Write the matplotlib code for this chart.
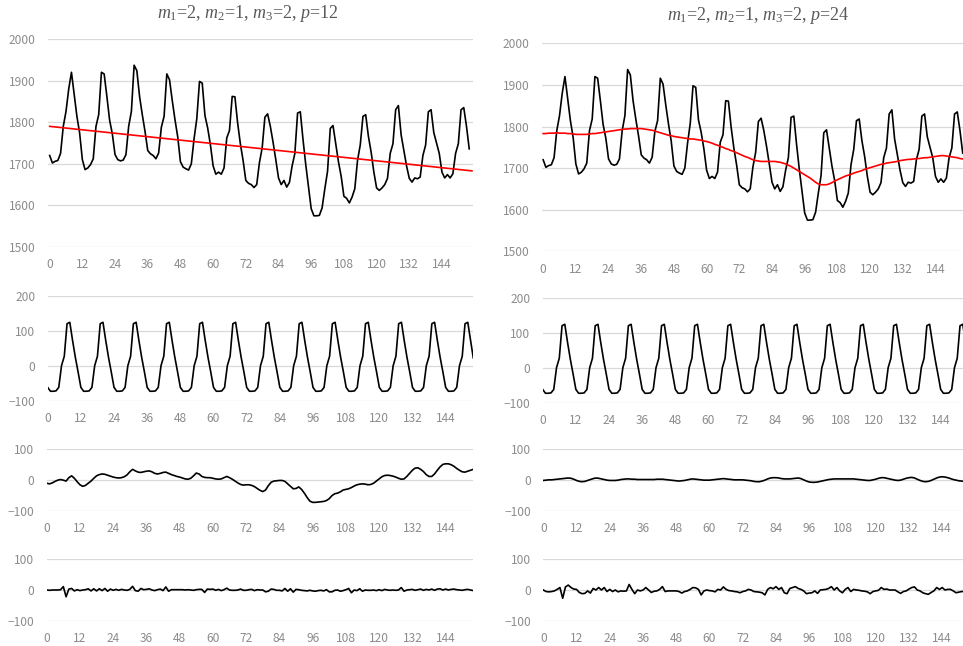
import numpy as np
import matplotlib
matplotlib.use("Agg")
import matplotlib.pyplot as plt

# ---------------- data ----------------
# observed series (index 0..154)
observed = [
    1720, 1702, 1706, 1708, 1725, 1790, 1826, 1880, 1920, 1866, 1814, 1774,
    1710, 1686, 1690, 1698, 1712, 1790, 1818, 1920, 1916, 1862, 1805, 1772,
    1722, 1710, 1707, 1709, 1722, 1790, 1826, 1937, 1924, 1862, 1818, 1778,
    1732, 1724, 1720, 1712, 1726, 1788, 1814, 1916, 1902, 1852, 1806, 1765,
    1705, 1692, 1688, 1685, 1700, 1760, 1808, 1898, 1894, 1816, 1786, 1746,
    1695, 1675, 1680, 1675, 1690, 1762, 1780, 1862, 1861, 1798, 1748, 1708,
    1660, 1653, 1650, 1643, 1650, 1703, 1738, 1812, 1820, 1790, 1752, 1710,
    1666, 1650, 1660, 1644, 1655, 1695, 1725, 1822, 1825, 1758, 1698, 1646,
    1592, 1575, 1575, 1576, 1594, 1640, 1682, 1785, 1792, 1748, 1705, 1670,
    1622, 1617, 1606, 1620, 1640, 1708, 1745, 1814, 1818, 1766, 1728, 1680,
    1642, 1636, 1642, 1650, 1665, 1725, 1748, 1830, 1840, 1770, 1732, 1695,
    1665, 1656, 1666, 1664, 1668, 1720, 1745, 1825, 1830, 1775, 1750, 1725,
    1680, 1666, 1674, 1666, 1676, 1725, 1748, 1830, 1835, 1790, 1736,
]

# linear trend (p=12): values at the first and last category
trend_lin_x = [0, 155]
trend_lin_y = [1790, 1683]

# smooth trend (p=24), index 0..155
trend_p24 = [
    1783, 1783, 1784, 1784, 1784, 1785, 1784, 1784, 1784, 1783, 1783, 1782,
    1781, 1781, 1781, 1781, 1781, 1782, 1783, 1783, 1784, 1785, 1786, 1787,
    1788, 1789, 1790, 1791, 1792, 1793, 1794, 1794, 1795, 1795, 1795, 1795,
    1795, 1794, 1793, 1792, 1791, 1789, 1787, 1785, 1783, 1781, 1779, 1778,
    1776, 1775, 1774, 1773, 1772, 1771, 1770, 1770, 1769, 1768, 1767, 1765,
    1764, 1762, 1760, 1757, 1755, 1752, 1750, 1747, 1745, 1742, 1740, 1737,
    1734, 1731, 1728, 1726, 1723, 1720, 1718, 1717, 1716, 1716, 1716, 1716,
    1716, 1716, 1715, 1714, 1712, 1710, 1707, 1704, 1700, 1696, 1692, 1688,
    1684, 1680, 1676, 1671, 1666, 1662, 1660, 1660, 1660, 1662, 1665, 1669,
    1672, 1675, 1678, 1681, 1683, 1685, 1688, 1690, 1692, 1694, 1697, 1699,
    1701, 1703, 1705, 1707, 1709, 1710, 1712, 1713, 1714, 1715, 1716, 1718,
    1719, 1720, 1721, 1721, 1722, 1723, 1723, 1724, 1725, 1725, 1726, 1727,
    1728, 1729, 1730, 1730, 1729, 1728, 1727, 1726, 1725, 1723, 1722, 1720,
]

# seasonal component, index 0..154
seasonal = [
    -62, -73, -73, -72, -62, 0, 27, 120, 124, 72, 24, -18,
    -62, -73, -73, -72, -62, 0, 27, 120, 124, 72, 24, -18,
    -62, -73, -73, -72, -62, 0, 27, 120, 124, 72, 24, -18,
    -62, -73, -73, -72, -62, 0, 27, 120, 124, 72, 24, -18,
    -62, -73, -73, -72, -62, 0, 27, 120, 124, 72, 24, -18,
    -62, -73, -73, -72, -62, 0, 27, 120, 124, 72, 24, -18,
    -62, -73, -73, -72, -62, 0, 27, 120, 124, 72, 24, -18,
    -62, -73, -73, -72, -62, 0, 27, 120, 124, 72, 24, -18,
    -62, -73, -73, -72, -62, 0, 27, 120, 124, 72, 24, -18,
    -62, -73, -73, -72, -62, 0, 27, 120, 124, 72, 24, -18,
    -62, -73, -73, -72, -62, 0, 27, 120, 124, 72, 24, -18,
    -62, -73, -73, -72, -62, 0, 27, 120, 124, 72, 24, -18,
    -62, -73, -73, -72, -62, 0, 27, 120, 124, 72, 22,
]

# cyclical component (p=12), index 0..154
cycle_p12 = [
    -10, -12, -9, -4, 0, 2, 0, -3, 8, 14, 6, -5,
    -15, -20, -17, -10, -3, 6, 14, 18, 20, 19, 16, 13,
    10, 8, 7, 8, 11, 17, 27, 35, 30, 26, 25, 27,
    29, 30, 27, 22, 20, 22, 25, 26, 22, 18, 15, 12,
    10, 7, 4, 3, 6, 14, 23, 20, 12, 9, 8, 8,
    6, 4, 3, 4, 8, 12, 8, 3, -3, -9, -14, -16,
    -15, -15, -17, -21, -27, -33, -37, -32, -18, -7, -3, -2,
    -1, -1, -4, -12, -20, -28, -27, -22, -30, -42, -56, -68,
    -72, -72, -71, -70, -69, -66, -60, -50, -44, -42, -38, -32,
    -30, -28, -24, -19, -15, -13, -12, -13, -15, -14, -10, -3,
    4, 11, 15, 16, 15, 13, 10, 6, 3, 4, 12, 22,
    32, 39, 40, 35, 28, 18, 12, 12, 20, 32, 43, 51,
    53, 53, 50, 45, 38, 32, 27, 26, 29, 32, 35,
]

# irregular component (p=12), index 0..154
noise_p12 = [
    0, -1, 0, 0, 0, 1, 11, -22, 3, 5, -3, 1,
    -2, 0, 1, 4, -3, 4, -3, 4, -2, 5, -4, 3,
    -1, 2, -1, 2, 0, -1, 2, 12, -2, -4, 5, 1,
    2, 4, 0, -2, 1, 3, -2, 10, -4, 1, 1, 1,
    1, 1, 0, 1, 0, -1, 1, 2, 2, -8, 3, 2,
    3, -1, 2, -2, 1, 6, 0, -1, -1, 0, 3, -1,
    -1, 1, 2, -2, 1, 0, 0, -6, -4, 3, 2, -1,
    -1, -3, 5, -4, 4, -7, 2, 1, -1, -2, -3, -1,
    -3, -4, -2, -1, -3, 1, -6, -6, -1, 0, -4, -2,
    1, 5, -9, 0, -2, 4, -4, 0, -1, -1, 0, -2,
    1, -2, 2, 0, -1, 0, -1, 0, 8, -4, 0, 1,
    2, -1, 1, 3, -1, 2, 0, 3, -1, 3, 4, 0,
    3, 0, 2, 3, 1, 0, -1, 1, 2, 0, -2,
]

# cyclical component (p=24), index 0..154
cycle_p24 = [
    -1, 0, 1, 1, 2, 3, 4, 5, 6, 7, 6, 3,
    -1, -4, -5, -4, -1, 2, 5, 7, 6, 4, 2, 0,
    -1, -1, -1, 0, 2, 3, 4, 4, 3, 3, 2, 2,
    2, 2, 2, 2, 2, 3, 3, 3, 2, 1, 0, -1,
    -2, -3, -2, -1, 1, 3, 4, 3, 2, 1, 0, 0,
    0, 1, 2, 3, 4, 5, 4, 3, 2, 1, 1, 1,
    1, 0, -1, -2, -4, -5, -5, -3, 0, 4, 7, 8,
    8, 7, 5, 4, 4, 4, 5, 6, 7, 5, 1, -3,
    -6, -7, -7, -6, -4, -2, 0, 2, 3, 4, 4, 4,
    4, 4, 4, 4, 4, 3, 2, 1, 0, -1, -1, 1,
    3, 6, 8, 8, 6, 4, 2, 0, -1, 0, 3, 6,
    8, 9, 7, 3, -1, -4, -5, -4, -1, 3, 7, 10,
    11, 10, 8, 5, 2, 0, -2, -3, -4, -4, -4,
]

# irregular component (p=24), index 0..154
noise_p24 = [
    0, -5, -6, -5, -3, 2, 8, -27, 10, 16, 8, 3,
    2, -8, -12, -11, -3, -10, 5, 0, 8, 0, 8, -5,
    2, -5, 0, -6, -3, -4, -3, 18, 2, -12, 0, -3,
    0, 8, 0, -8, -4, -3, 2, 11, -5, -3, -3, -3,
    -3, -5, -10, -5, -3, 2, 8, 7, 2, -16, -3, 0,
    -2, -3, -6, 2, 0, 10, 2, -2, -3, -5, -6, -9,
    -5, -3, 2, 0, -5, -6, -7, -9, -16, 2, 8, 4,
    11, 2, 8, -9, -12, 5, 8, 11, 5, 2, -3, -12,
    -10, -9, -3, -11, 0, 1, 2, 5, 11, 0, 8, -3,
    -9, 2, 8, -5, 2, 0, -1, -3, -4, -6, -12, -5,
    -3, -1, 8, 2, 3, 0, 0, 0, -6, -11, -5, -3,
    3, 8, 10, 0, -3, -9, -12, -14, -8, -3, 8, 2,
    8, 0, 2, 2, -3, -9, -7, -5, -5, -4, -3,
]

xticks = list(range(0, 145, 12))
titles = [r"$m_1$=2, $m_2$=1, $m_3$=2, $p$=12",
          r"$m_1$=2, $m_2$=1, $m_3$=2, $p$=24"]

# ---------------- styling ----------------
plt.rcParams["font.family"] = ["Noto Sans CJK JP", "DejaVu Sans"]
plt.rcParams["mathtext.fontset"] = "custom"
plt.rcParams["mathtext.rm"] = "Liberation Serif"
plt.rcParams["mathtext.it"] = "Liberation Serif:italic"

TICK_COLOR = "#8c8c8c"
GRID_COLOR = "#d9d9d9"
LINE_W = 1.2

W, H = 963, 646
fig = plt.figure(figsize=(W / 100, H / 100), dpi=100)
fig.patch.set_facecolor("white")


def px_axes(x0, y0, x1, y1):
    return fig.add_axes([x0 / W, 1 - y1 / H, (x1 - x0) / W, (y1 - y0) / H])


def style(ax, xlim, ylim, yticks):
    ax.set_xlim(*xlim)
    ax.set_ylim(*ylim)
    ax.set_yticks(yticks)
    ax.set_xticks(xticks)
    ax.set_xticklabels([str(t) for t in xticks])
    for s in ax.spines.values():
        s.set_visible(False)
    ax.tick_params(axis="both", length=0, labelsize=8.6, colors=TICK_COLOR)
    ax.tick_params(axis="y", pad=9.0)
    ax.tick_params(axis="x", pad=8.2)
    ax.grid(axis="y", color=GRID_COLOR, linewidth=0.9)
    ax.grid(axis="x", visible=False)
    ax.set_axisbelow(True)
    ax.patch.set_alpha(0)


x_obs = np.arange(len(observed))
x_comp = np.arange(len(seasonal))
x_p24 = np.arange(len(trend_p24))

columns = [
    dict(dx=0.0, dy=0.0, title=titles[0], title_x=247.5, title_y=13.5,
         cyc=cycle_p12, noi=noise_p12, trend="lin"),
    dict(dx=493.5, dy=4.3, title=titles[1], title_x=758.0, title_y=15.5,
         cyc=cycle_p24, noi=noise_p24, trend="p24"),
]

for col in columns:
    dx, dy = col["dx"], col["dy"]

    # row 1: observed series with trend
    ax1 = px_axes(48.3 + dx, 39 + dy, 473.3 + dx, 247 + dy)
    style(ax1, (-0.5, 155.5), (1500, 2000), list(range(1500, 2001, 100)))
    ax1.plot(x_obs, observed, color="black", lw=LINE_W)
    if col["trend"] == "lin":
        ax1.plot(trend_lin_x, trend_lin_y, color="#ff0000", lw=LINE_W)
    else:
        ax1.plot(x_p24, trend_p24, color="#ff0000", lw=LINE_W)

    # row 2: seasonal component
    ax2 = px_axes(47.7 + dx + (1.5 if dx else 0), 295.7 + (2 if dx else 0),
                  473.3 + dx + (1.5 if dx else 0), 400.7 + (2 if dx else 0))
    style(ax2, (0, 154), (-100, 200), [-100, 0, 100, 200])
    ax2.plot(x_comp, seasonal, color="black", lw=LINE_W)

    # row 3: cyclical component
    ax3 = px_axes(46.7 + dx + (3.1 if dx else 0), 449.3,
                  473.3 + dx + (3.1 if dx else 0), 511)
    style(ax3, (0, 154), (-100, 100), [-100, 0, 100])
    ax3.plot(x_comp, col["cyc"], color="black", lw=LINE_W)

    # row 4: irregular component
    ax4 = px_axes(46.7 + dx + (3.1 if dx else 0), 559.3,
                  473.3 + dx + (3.1 if dx else 0), 620.7)
    style(ax4, (0, 154), (-100, 100), [-100, 0, 100])
    ax4.plot(x_comp, col["noi"], color="black", lw=LINE_W)

    fig.text(col["title_x"] / W, 1 - col["title_y"] / H, col["title"],
             ha="center", va="center", fontsize=13, color="#595959",
             family="Liberation Serif")

fig.savefig("out.png", dpi=100, facecolor="white")
